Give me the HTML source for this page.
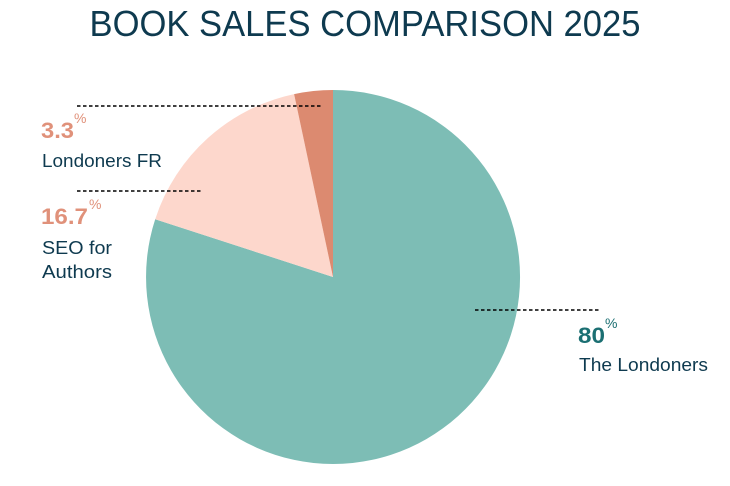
<!DOCTYPE html>
<html><head><meta charset="utf-8"><style>
html,body{margin:0;padding:0;background:#fff;}
svg{display:block;font-family:"Liberation Sans",sans-serif;}
</style></head><body>
<svg width="730" height="486" viewBox="0 0 730 486">
<text x="365" y="36" text-anchor="middle" font-size="36" fill="#0e3a4f" textLength="551" lengthAdjust="spacingAndGlyphs">BOOK SALES COMPARISON 2025</text>
<path d="M333,277 L333,90 A187,187 0 1 1 155.2,219.2 Z" fill="#7dbdb5"/>
<path d="M333,277 L155.2,219.2 A187,187 0 0 1 294.1,94.1 Z" fill="#fdd7cc"/>
<path d="M333,277 L294.1,94.1 A187,187 0 0 1 333,90 Z" fill="#dc8a70"/>
<g stroke="#000" stroke-width="1.5" stroke-dasharray="3.5,2.5">
<line x1="77" y1="106" x2="323" y2="106"/>
<line x1="77" y1="191" x2="203" y2="191"/>
<line x1="475" y1="310" x2="601" y2="310"/>
</g>
<g font-weight="bold" font-size="22" fill="#e0917a">
<text x="41" y="138" textLength="33" lengthAdjust="spacingAndGlyphs">3.3</text>
<text x="41" y="224" textLength="47" lengthAdjust="spacingAndGlyphs">16.7</text>
</g>
<g font-size="14" fill="#e0917a">
<text x="74" y="123">%</text>
<text x="89" y="209">%</text>
</g>
<text x="578" y="343" font-weight="bold" font-size="22" fill="#1b6f72" textLength="27" lengthAdjust="spacingAndGlyphs">80</text>
<text x="605" y="328" font-size="14" fill="#1b6f72">%</text>
<g font-size="18" fill="#0e3a4f">
<text x="42" y="167" textLength="120" lengthAdjust="spacingAndGlyphs">Londoners FR</text>
<text x="42" y="254" textLength="70" lengthAdjust="spacingAndGlyphs">SEO for</text>
<text x="42" y="278" textLength="70" lengthAdjust="spacingAndGlyphs">Authors</text>
<text x="579" y="371" textLength="129" lengthAdjust="spacingAndGlyphs">The Londoners</text>
</g>
</svg>
</body></html>
